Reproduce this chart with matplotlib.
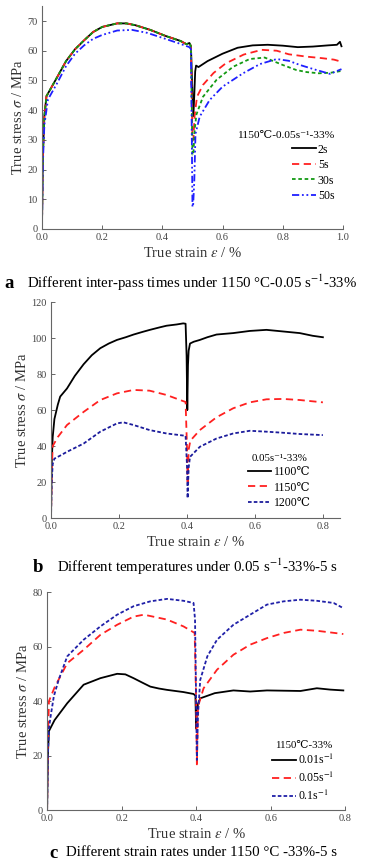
import numpy as np
import matplotlib
matplotlib.use("Agg")
from matplotlib import pyplot as plt

plt.rcParams['font.family'] = ['Liberation Serif', 'DejaVu Serif', 'DejaVu Sans', 'Noto Sans CJK SC']
plt.rcParams['mathtext.fontset'] = 'stix'

# ---- panel a : inter-pass times ----
a_load_x = [0, 0.003, 0.008, 0.015, 0.05, 0.08, 0.11, 0.14, 0.17, 0.2, 0.25, 0.28, 0.31, 0.36, 0.41, 0.46, 0.48, 0.49, 0.495]
a_load_y = [0, 25, 38, 44.7, 51, 56.5, 60.5, 63.5, 66.3, 68, 69.2, 69.2, 68.6, 67, 65, 63.3, 62.2, 62.6, 61.5]
a_load50_x = [0, 0.003, 0.008, 0.02, 0.05, 0.08, 0.11, 0.14, 0.17, 0.2, 0.25, 0.3, 0.35, 0.41, 0.46, 0.49, 0.495]
a_load50_y = [0, 22, 35, 43.6, 49, 54.8, 59, 61.8, 64, 65.3, 66.8, 67, 66, 64, 62.3, 61.2, 60.5]

a2_x = [0.5, 0.503, 0.506, 0.509, 0.512, 0.52, 0.55, 0.6, 0.65, 0.7, 0.75, 0.8, 0.85, 0.9, 0.95, 0.98, 0.99, 0.995]
a2_y = [45, 38, 45, 53, 55, 54.5, 56.5, 59, 61, 61.8, 62, 61.7, 61.2, 61.4, 61.8, 62, 63, 61.5]
a5_x = [0.5, 0.503, 0.507, 0.515, 0.535, 0.57, 0.61, 0.67, 0.73, 0.78, 0.82, 0.88, 0.93, 0.97, 0.995]
a5_y = [30, 30, 38, 44.5, 48.5, 52.5, 55.7, 58.7, 60.3, 60, 58.8, 58, 57.5, 57, 56.3]
a30_x = [0.5, 0.503, 0.507, 0.513, 0.535, 0.58, 0.635, 0.69, 0.74, 0.8, 0.845, 0.88, 0.92, 0.96, 0.995]
a30_y = [25, 25, 33, 38.5, 44.5, 50.2, 54.6, 57.2, 57.7, 55.2, 53.5, 52.8, 52.4, 52.6, 53.2]
a50_x = [0.5, 0.502, 0.506, 0.51, 0.524, 0.557, 0.6, 0.668, 0.724, 0.78, 0.82, 0.857, 0.912, 0.957, 0.995]
a50_y = [7.5, 7.5, 16, 32, 37.8, 43.4, 47.9, 52.4, 55.5, 57.2, 56.6, 55.2, 53.5, 52.2, 53.8]
a_labels = ['2s', '5s', '30s', '50s']

# ---- panel b : temperatures ----
b1100_x = [0, 0.002, 0.005, 0.01, 0.02, 0.027, 0.047, 0.07, 0.096, 0.12, 0.145, 0.17, 0.194, 0.22, 0.243, 0.27, 0.291,
           0.32, 0.34, 0.37, 0.389, 0.396, 0.399, 0.401, 0.403, 0.405, 0.409, 0.42, 0.438, 0.46, 0.487, 0.536, 0.585,
           0.634, 0.683, 0.732, 0.77, 0.8]
b1100_y = [0, 30, 45, 55, 63, 67.5, 72, 79, 85.5, 90.5, 94.4, 97, 99, 100.5, 102, 103.5, 104.6,
           106, 106.9, 107.6, 108.2, 108, 90, 60, 85, 93, 97, 98, 99, 100.5, 102, 102.8, 104,
           104.6, 103.7, 102.8, 101.3, 100.5]
b1150_x = [0, 0.002, 0.005, 0.02, 0.047, 0.096, 0.145, 0.194, 0.243, 0.29, 0.34, 0.38, 0.396, 0.4, 0.402, 0.405,
           0.41, 0.438, 0.487, 0.536, 0.585, 0.634, 0.683, 0.732, 0.8]
b1150_y = [0, 25, 40, 45, 51.7, 59, 65.6, 69.3, 71.2, 70.8, 68.4, 65.6, 64.5, 40, 20, 38,
           43, 48.9, 56, 61, 64.3, 66, 66.2, 65.6, 64.3]
b1200_x = [0, 0.002, 0.005, 0.01, 0.03, 0.047, 0.096, 0.145, 0.194, 0.213, 0.243, 0.29, 0.34, 0.396, 0.4, 0.402,
           0.405, 0.409, 0.438, 0.487, 0.536, 0.585, 0.634, 0.683, 0.732, 0.8]
b1200_y = [0, 20, 30, 33, 35, 36.8, 41.4, 48, 52.6, 53.2, 51.7, 48.9, 47, 45.7, 30, 11,
           28, 34, 39.6, 44.2, 47, 48.5, 48, 47.4, 46.7, 46.1]
b_labels = ['1100℃', '1150℃', '1200℃']

# ---- panel c : strain rates ----
c001_x = [0, 0.002, 0.005, 0.02, 0.054, 0.098, 0.143, 0.188, 0.21, 0.232, 0.255, 0.277, 0.3, 0.322, 0.366, 0.393,
          0.398, 0.4, 0.402, 0.405, 0.411, 0.45, 0.5, 0.545, 0.59, 0.635, 0.68, 0.724, 0.76, 0.795]
c001_y = [0, 20, 29, 33, 39.2, 46, 48.4, 50, 49.8, 48.4, 46.8, 45.3, 44.6, 44.1, 43.3, 42.6,
          42, 30, 36, 39, 41, 42.9, 43.9, 43.5, 43.9, 43.8, 43.7, 44.7, 44.2, 43.9]
c005_x = [0, 0.002, 0.005, 0.02, 0.054, 0.098, 0.143, 0.188, 0.232, 0.26, 0.322, 0.366, 0.396, 0.4, 0.402, 0.405,
          0.42, 0.456, 0.5, 0.545, 0.59, 0.635, 0.68, 0.724, 0.795]
c005_y = [0, 25, 40, 45, 53.9, 58.8, 64.3, 68, 71, 71.7, 69.9, 67.4, 65, 40, 16, 38,
          44.7, 51.5, 57, 60.7, 63.1, 65, 66.2, 65.8, 64.6]
c01_x = [0, 0.002, 0.005, 0.009, 0.018, 0.031, 0.054, 0.098, 0.143, 0.188, 0.232, 0.277, 0.322, 0.366, 0.393,
         0.397, 0.4, 0.402, 0.405, 0.411, 0.43, 0.456, 0.5, 0.545, 0.59, 0.635, 0.68, 0.724, 0.769, 0.795]
c01_y = [0, 20, 30, 34, 41.7, 47.8, 56.4, 62.5, 67.4, 71.7, 74.8, 76.6, 77.5, 76.8, 76,
         70, 40, 18.4, 35, 47.8, 56.4, 62.5, 68, 71.7, 75.4, 76.6, 77.2, 76.8, 76, 74.1]
c_labels = ['0.01s$^{-1}$', '0.05s$^{-1}$', '0.1s$^{-1}$']

lw = 1.3
red = '#ff2020'
green = '#139a13'


def style(ax, xlim, ylim, xt, yt, xfmt):
    for s in ['top', 'right']:
        ax.spines[s].set_visible(False)
    for s in ['left', 'bottom']:
        ax.spines[s].set_color('#666666')
        ax.spines[s].set_linewidth(0.8)
    ax.set_xlim(xlim)
    ax.set_ylim(ylim)
    ax.set_xticks(xt)
    ax.set_yticks(yt)
    ax.set_xticklabels([xfmt % v for v in xt])
    ax.tick_params(direction='in', length=3, width=0.7, color='#666666', labelsize=7.5,
                   labelcolor='#444444', pad=3)
    ax.set_xlabel(r'True strain $\varepsilon$ / %', fontsize=10.5, color='#333333', labelpad=3)
    ax.set_ylabel(r'True stress $\sigma$ / MPa', fontsize=10.5, color='#333333', labelpad=2)


fig = plt.figure(figsize=(3.68, 8.67), dpi=100)

# panel a
ax = fig.add_axes([0.114, 0.7359, 0.818, 0.257])
ax.plot(np.r_[a_load_x, a2_x], np.r_[a_load_y, a2_y], color='black', lw=lw, label=a_labels[0])
ax.plot(np.r_[a_load_x, a5_x], np.r_[a_load_y, a5_y], color=red, lw=lw, dashes=(4, 2.5), label=a_labels[1])
ax.plot(np.r_[a_load_x, a30_x], np.r_[a_load_y, a30_y], color=green, lw=lw, dashes=(2, 1.5), label=a_labels[2])
ax.plot(np.r_[a_load50_x, a50_x], np.r_[a_load50_y, a50_y], color='#1f1fff', lw=lw,
        dashes=(4, 1.5, 1, 1.5, 1, 1.5), label=a_labels[3])
style(ax, (0, 1.0), (0, 75), [0, 0.2, 0.4, 0.6, 0.8, 1.0], range(0, 71, 10), '%.1f')
ax.legend(loc='center', bbox_to_anchor=(0.81, 0.28), frameon=False, fontsize=8.5,
          title='1150℃-0.05s⁻¹-33%', title_fontsize=8.2, handlelength=2.0,
          labelspacing=0.3, handletextpad=0.2, alignment='right')
fig.text(0.012, 1 - 283 / 867, 'a', fontsize=13.5, fontweight='bold', va='center')
fig.text(0.073, 1 - 283 / 867, 'Different inter-pass times under 1150 °C-0.05 s$^{-1}$-33%',
         fontsize=10.7, va='center')

# panel b
ax = fig.add_axes([0.1386, 0.4025, 0.785, 0.249])
ax.plot(b1100_x, b1100_y, color='black', lw=lw, label=b_labels[0])
ax.plot(b1150_x, b1150_y, color=red, lw=lw, dashes=(4, 2.5), label=b_labels[1])
ax.plot(b1200_x, b1200_y, color='#1c1c9c', lw=lw, dashes=(2, 1.2), label=b_labels[2])
style(ax, (0, 0.85), (0, 120), [0, 0.2, 0.4, 0.6, 0.8], range(0, 121, 20), '%.1f')
ax.legend(loc='center', bbox_to_anchor=(0.79, 0.17), frameon=False, fontsize=8.5,
          title='0.05s⁻¹-33%', title_fontsize=7.8, handlelength=2.0,
          labelspacing=0.3, handletextpad=0.2)
fig.text(0.088, 1 - 567 / 867, 'b', fontsize=13.5, fontweight='bold', va='center')
fig.text(0.155, 1 - 567 / 867, 'Different temperatures under 0.05 s$^{-1}$-33%-5 s',
         fontsize=10.7, va='center')

# panel c
ax = fig.add_axes([0.128, 0.0657, 0.81, 0.2514])
ax.plot(c001_x, c001_y, color='black', lw=lw, label=c_labels[0])
ax.plot(c005_x, c005_y, color=red, lw=lw, dashes=(4, 2.5), label=c_labels[1])
ax.plot(c01_x, c01_y, color='#2020a8', lw=lw, dashes=(2, 1.2), label=c_labels[2])
style(ax, (0, 0.8), (0, 80), [0, 0.2, 0.4, 0.6, 0.8], range(0, 81, 20), '%.1f')
ax.legend(loc='center', bbox_to_anchor=(0.86, 0.175), frameon=False, fontsize=8.5,
          title='1150℃-33%', title_fontsize=7.8, handlelength=2.0,
          labelspacing=0.3, handletextpad=0.2)
fig.text(0.133, 1 - 853 / 867, 'c', fontsize=13.5, fontweight='bold', va='center')
fig.text(0.18, 1 - 853 / 867, 'Different strain rates under 1150 °C -33%-5 s',
         fontsize=10.7, va='center')

fig.savefig('out.png', dpi=100)
